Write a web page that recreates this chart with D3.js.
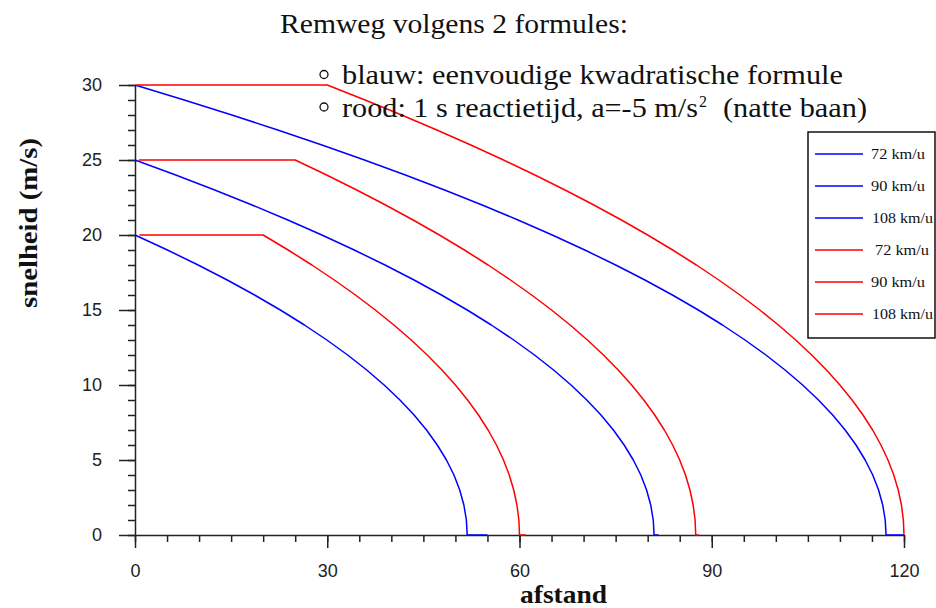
<!DOCTYPE html>
<html>
<head>
<meta charset="utf-8">
<script src="https://cdn.jsdelivr.net/npm/d3@7"></script>
<style>
  html, body { margin: 0; padding: 0; background: #fff; }
  svg { display: block; }
</style>
</head>
<body>
<svg id="chart" width="936" height="608"></svg>
<script>
// ---------- data ----------
const xTicksMajor = [0, 30, 60, 90, 120];
const yTicksMajor = [0, 5, 10, 15, 20, 25, 30];
const legendLabels = ["72 km/u", "90 km/u", "108 km/u", "72 km/u", "90 km/u", "108 km/u"];
// [afstand, snelheid]
const blue72 = [[0,20],[5.05,19],[9.85,18],[14.39,17],[18.66,16],[22.68,15],[26.44,14],[29.94,13],[33.18,12],[36.16,11],[38.88,10],[41.34,9],[43.55,8],[45.49,7],[47.17,6],[48.6,5],[49.77,4],[50.67,3],[51.32,2],[51.71,1],[51.84,0],[55,0]];
const blue90 = [[0,25],[6.35,24],[12.44,23],[18.27,22],[23.85,21],[29.16,20],[34.21,19],[39.01,18],[43.55,17],[47.82,16],[51.84,15],[55.6,14],[59.1,13],[62.34,12],[65.32,11],[68.04,10],[70.5,9],[72.71,8],[74.65,7],[76.33,6],[77.76,5],[78.93,4],[79.83,3],[80.48,2],[80.87,1],[81,0],[81.7,0]];
const blue108 = [[0,30],[7.68,29],[15.11,28],[22.27,27],[29.17,26],[35.81,25],[42.19,24],[48.31,23],[54.17,22],[59.77,21],[65.11,20],[70.19,19],[75.01,18],[79.57,17],[83.86,16],[87.9,15],[91.68,14],[95.19,13],[98.45,12],[101.44,11],[104.18,10],[106.65,9],[108.87,8],[110.82,7],[112.51,6],[113.94,5],[115.12,4],[116.03,3],[116.68,2],[117.07,1],[117.2,0],[120,0]];
const red72 = [[0.7,20],[20,20],[23.9,19],[27.6,18],[31.1,17],[34.4,16],[37.5,15],[40.4,14],[43.1,13],[45.6,12],[47.9,11],[50,10],[51.9,9],[53.6,8],[55.1,7],[56.4,6],[57.5,5],[58.4,4],[59.1,3],[59.6,2],[59.9,1],[60,0],[61,0]];
const red90 = [[0.6,25],[25,25],[29.9,24],[34.6,23],[39.1,22],[43.4,21],[47.5,20],[51.4,19],[55.1,18],[58.6,17],[61.9,16],[65,15],[67.9,14],[70.6,13],[73.1,12],[75.4,11],[77.5,10],[79.4,9],[81.1,8],[82.6,7],[83.9,6],[85,5],[85.9,4],[86.6,3],[87.1,2],[87.4,1],[87.5,0],[88,0]];
const red108 = [[0.2,30],[30,30],[35.9,29],[41.6,28],[47.1,27],[52.4,26],[57.5,25],[62.4,24],[67.1,23],[71.6,22],[75.9,21],[80,20],[83.9,19],[87.6,18],[91.1,17],[94.4,16],[97.5,15],[100.4,14],[103.1,13],[105.6,12],[107.9,11],[110,10],[111.9,9],[113.6,8],[115.1,7],[116.4,6],[117.5,5],[118.4,4],[119.1,3],[119.6,2],[119.9,1],[120,0]];

const seriesList = [
  {data: blue72, color: "#0000ff"},
  {data: blue90, color: "#0000ff"},
  {data: blue108, color: "#0000ff"},
  {data: red72, color: "#ff0000"},
  {data: red90, color: "#ff0000"},
  {data: red108, color: "#ff0000"}
];

// ---------- chart ----------
const svg = d3.select("#chart");
const x = d3.scaleLinear().domain([0, 120]).range([135, 904]);
const y = d3.scaleLinear().domain([0, 30]).range([535, 85]);

const axisColor = "#222";
const tickFont = "'Liberation Sans', Arial, sans-serif";

// minor ticks
svg.append("g").attr("transform", `translate(0,${y(0)})`)
  .call(d3.axisBottom(x).tickValues(d3.range(0, 121, 5)).tickSize(7).tickFormat("").tickSizeOuter(0))
  .call(g => g.select(".domain").remove());
svg.append("g").attr("transform", `translate(${x(0)},0)`)
  .call(d3.axisLeft(y).tickValues(d3.range(0, 31, 1)).tickSize(7).tickFormat("").tickSizeOuter(0))
  .call(g => g.select(".domain").remove());

// major axes
svg.append("g").attr("transform", `translate(0,${y(0)})`)
  .call(d3.axisBottom(x).tickValues(xTicksMajor).tickSize(13).tickPadding(16).tickSizeOuter(0));
svg.append("g").attr("transform", `translate(${x(0)},0)`)
  .call(d3.axisLeft(y).tickValues(yTicksMajor).tickSize(16).tickPadding(17).tickSizeOuter(0));

svg.selectAll(".tick line").attr("stroke", axisColor).attr("stroke-width", 1.5);
svg.selectAll(".domain").attr("stroke", axisColor).attr("stroke-width", 1.5);
svg.selectAll(".tick text").attr("fill", "#222").style("font-family", tickFont).style("font-size", "18px");

// lines
const line = d3.line().x(d => x(d[0])).y(d => y(d[1]));
svg.append("g").selectAll("path").data(seriesList).join("path")
  .attr("d", d => line(d.data))
  .attr("fill", "none")
  .attr("stroke", d => d.color)
  .attr("stroke-width", 1.5)
  .attr("stroke-linejoin", "round");

// title
const serif = "'Liberation Serif', 'Times New Roman', serif";
svg.append("text").attr("x", 280).attr("y", 33)
  .style("font-family", serif).style("font-size", "28px").attr("fill", "#111")
  .attr("textLength", 348).attr("lengthAdjust", "spacingAndGlyphs")
  .text("Remweg volgens 2 formules:");

// bullets
svg.append("circle").attr("cx", 324).attr("cy", 74.5).attr("r", 4).attr("fill", "none").attr("stroke", "#111").attr("stroke-width", 1.3);
svg.append("circle").attr("cx", 324).attr("cy", 107).attr("r", 4).attr("fill", "none").attr("stroke", "#111").attr("stroke-width", 1.3);
svg.append("text").attr("x", 342).attr("y", 83.5)
  .style("font-family", serif).style("font-size", "27px").attr("fill", "#111")
  .attr("textLength", 501).attr("lengthAdjust", "spacingAndGlyphs")
  .text("blauw: eenvoudige kwadratische formule");
const t2 = svg.append("text").attr("y", 117)
  .style("font-family", serif).style("font-size", "27px").attr("fill", "#111");
t2.append("tspan").attr("x", 342).attr("textLength", 356).attr("lengthAdjust", "spacingAndGlyphs")
  .text("rood: 1 s reactietijd, a=-5 m/s");
t2.append("tspan").attr("x", 699).attr("dy", -10).style("font-size", "16px").text("2");
t2.append("tspan").attr("x", 723).attr("dy", 10).attr("textLength", 144).attr("lengthAdjust", "spacingAndGlyphs")
  .text("(natte baan)");

// axis labels
svg.append("text").attr("x", 520).attr("y", 603)
  .style("font-family", serif).style("font-size", "26px").style("font-weight", "bold").attr("fill", "#111")
  .attr("textLength", 87).attr("lengthAdjust", "spacingAndGlyphs")
  .text("afstand");
svg.append("text").attr("transform", "translate(37,308) rotate(-90)")
  .style("font-family", serif).style("font-size", "26px").style("font-weight", "bold").attr("fill", "#111")
  .attr("textLength", 170).attr("lengthAdjust", "spacingAndGlyphs")
  .text("snelheid (m/s)");

// legend
const lg = svg.append("g");
lg.append("rect").attr("x", 808).attr("y", 132).attr("width", 127).attr("height", 206)
  .attr("fill", "#fff").attr("stroke", "#111").attr("stroke-width", 1.5);
const legY = d3.scalePoint().domain(d3.range(6)).range([154, 314]);
const items = lg.selectAll("g.item").data(seriesList).join("g").attr("class", "item")
  .attr("transform", (d, i) => `translate(0,${legY(i)})`);
items.append("line").attr("x1", 815).attr("x2", 863).attr("y1", 0).attr("y2", 0)
  .attr("stroke", d => d.color).attr("stroke-width", 1.5);
items.append("text")
  .attr("x", (d, i) => i === 3 ? 875 : (legendLabels[i].length > 7 ? 872 : 871))
  .attr("y", 4.5)
  .style("font-family", serif).style("font-size", "14px").attr("fill", "#111")
  .attr("textLength", (d, i) => legendLabels[i].length > 7 ? 61 : 54)
  .attr("lengthAdjust", "spacingAndGlyphs")
  .text((d, i) => legendLabels[i]);
</script>
</body>
</html>
